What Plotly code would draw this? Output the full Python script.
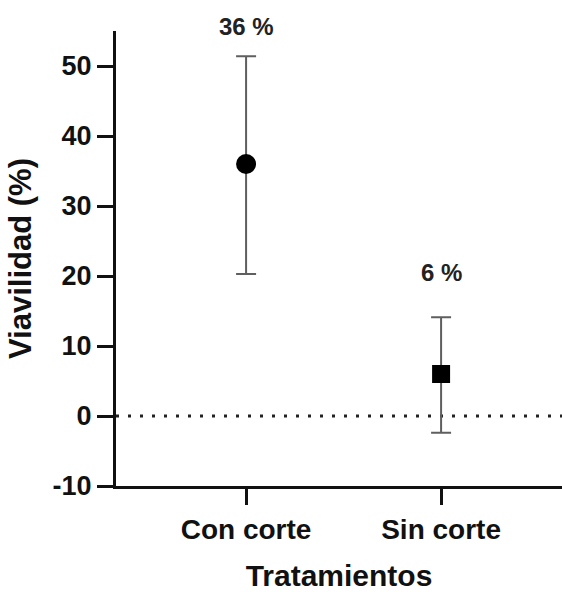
import plotly.graph_objects as go

categories = ["Con corte", "Sin corte"]
means = [36, 6]
upper = [51.4, 14.1]
lower = [20.3, -2.4]
labels = ["36 %", "6 %"]
symbols = ["circle", "square"]
ytick_vals = [-10, 0, 10, 20, 30, 40, 50]
ytick_text = ["-10", "0", "10", "20", "30", "40", "50"]

FONT = "Liberation Sans"

fig = go.Figure()
for c, m, u, l, s in zip(categories, means, upper, lower, symbols):
    fig.add_trace(go.Scatter(
        x=[c], y=[m], mode="markers",
        marker=dict(symbol=s, size=20 if s == "circle" else 18, color="black"),
        error_y=dict(type="data", symmetric=False, array=[u - m], arrayminus=[m - l],
                     color="#5f5f5f", thickness=2, width=10),
        showlegend=False, cliponaxis=False,
    ))

shifts = [30, 45]
for c, u, t, sh in zip(categories, upper, labels, shifts):
    fig.add_annotation(x=c, y=u, text="<b>%s</b>" % t, showarrow=False,
                       yshift=sh, yanchor="middle",
                       font=dict(family=FONT, size=24, color="#222"))

fig.add_shape(type="line", xref="paper", x0=0, x1=1, yref="y", y0=0, y1=0,
              line=dict(color="#222", width=3, dash="3px,9px"), layer="below")

fig.update_layout(
    width=562, height=592,
    margin=dict(l=116, r=0, t=31, b=106),
    plot_bgcolor="white", paper_bgcolor="white",
    font=dict(family=FONT, color="#111"),
)
fig.update_xaxes(
    type="category", range=[-0.667, 1.62],
    showline=True, linecolor="#111", linewidth=3,
    ticks="outside", ticklen=16, tickwidth=3, tickcolor="#111",
    tickfont=dict(family=FONT, size=28, color="#111", weight="bold"),
    showgrid=False, zeroline=False,
    title=dict(text="<b>Tratamientos</b>", font=dict(family=FONT, size=30, color="#111"), standoff=26),
)
fig.update_yaxes(
    range=[-10, 55], tickvals=ytick_vals, ticktext=ytick_text,
    showline=True, linecolor="#111", linewidth=3,
    ticks="outside", ticklen=16, tickwidth=3, tickcolor="#111",
    tickfont=dict(family=FONT, size=27, color="#111", weight="bold"),
    showgrid=False, zeroline=False,
    title=dict(text="<b>Viavilidad (%)</b>", font=dict(family=FONT, size=31, color="#111"), standoff=12),
)

fig.write_html("out.html", config={"displayModeBar": False},
               post_script="document.body.style.margin='0';")
